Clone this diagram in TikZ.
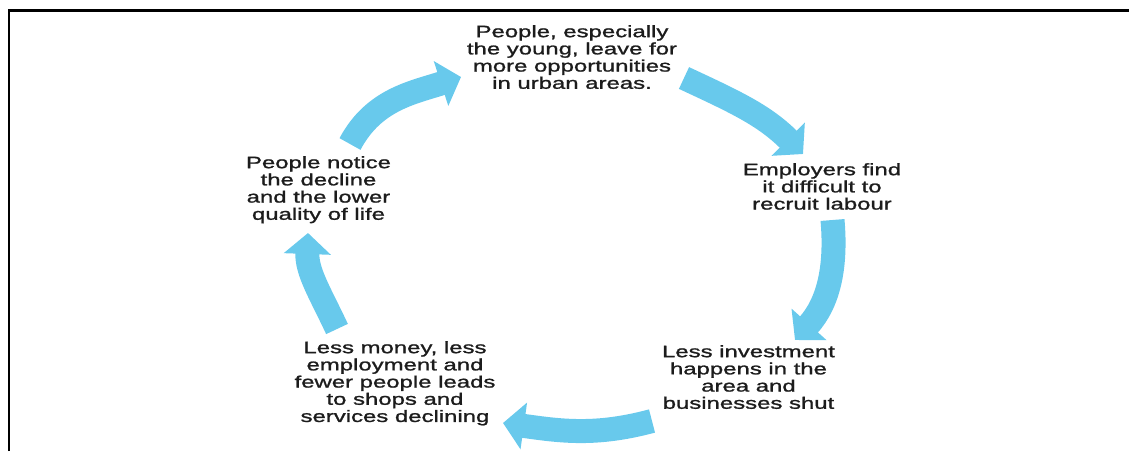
\documentclass[tikz,border=0pt]{standalone}
\usepackage{fontspec}
\setmainfont{Liberation Sans}[FakeStretch=1.45,FakeBold=1.3]
\usetikzlibrary{arrows.meta}

\definecolor{cycleblue}{RGB}{104,201,236}
\definecolor{textgray}{RGB}{28,28,28}

\tikzset{
	stage/.style={anchor=north, inner sep=0pt, align=center, text=textgray,
		font=\fontsize{16.5}{17.2}\selectfont},
	flow/.style={draw=cycleblue, line width=24pt, -{Triangle[width=46pt,length=21pt]}}
}

\begin{document}
\begin{tikzpicture}[x=1pt,y=1pt]
	\useasboundingbox (0,0) rectangle (1129,451);
	% frame
	\draw[line width=2.4pt] (8.7,0) -- (8.7,440.3) -- (1129,440.3);

	% stages of the cycle
	\node (T)  at (572,426)   [stage] {People, especially\\the young, leave for\\more opportunities\\in urban areas.};
	\node (R)  at (822,288)   [stage] {Employers find\\it difficult to\\recruit labour};
	\node (BR) at (748.5,106) [stage] {Less investment\\happens in the\\area and\\businesses shut};
	\node (BL) at (395,110)   [stage] {Less money, less\\employment and\\fewer people leads\\to shops and\\services declining};
	\node (L)  at (318.5,295) [stage] {People notice\\the decline\\and the lower\\quality of life};

	% arrow ends
	\coordinate (T-out)  at (684,373);
	\coordinate (R-in)   at (803,297);
	\coordinate (R-out)  at (832.5,231);
	\coordinate (BR-in)  at (795,111);
	\coordinate (BR-out) at (652,30);
	\coordinate (BL-in)  at (503,28);
	\coordinate (BL-out) at (337,122);
	\coordinate (L-in)   at (308,218);
	\coordinate (L-out)  at (350,307);
	\coordinate (T-in)   at (461,374);

	\draw[flow] (T-out)  to[out=-25,in=135]  (R-in);
	\draw[flow] (R-out)  to[out=-85,in=48]   (BR-in);
	\draw[flow] (BR-out) to[out=195,in=-8]   (BL-in);
	\draw[flow] (BL-out) to[out=115,in=-92]  (L-in);
	\draw[flow] (L-out)  to[out=62,in=198]   (T-in);
\end{tikzpicture}
\end{document}
